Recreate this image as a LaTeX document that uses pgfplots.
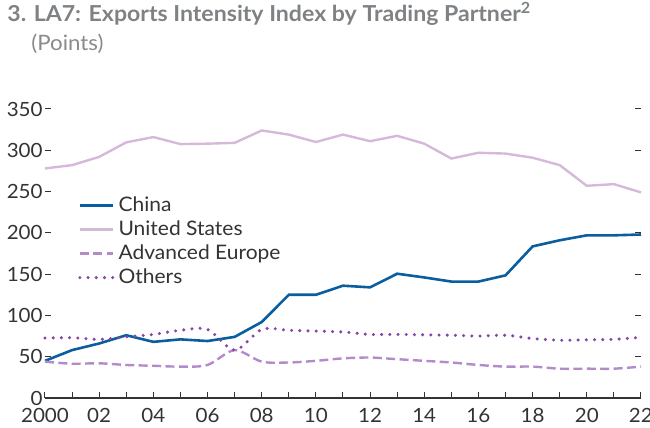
\documentclass[border=0pt]{standalone}
\usepackage{pgfplots}
\pgfplotsset{compat=1.18}
\usepackage{fontspec}
\setmainfont{Lato}[FakeStretch=1.05]
\definecolor{chinac}{HTML}{0B5E9E}
\definecolor{usc}{HTML}{D6B8DB}
\definecolor{aec}{HTML}{B48BCA}
\definecolor{othc}{HTML}{8646A6}
\definecolor{titlec}{HTML}{7F8285}
\definecolor{subc}{HTML}{8A8A8A}
\definecolor{tickc}{HTML}{333333}
\begin{document}
\begin{tikzpicture}
\useasboundingbox (0,0) rectangle (325pt,214pt);
\node[anchor=base west, inner sep=0pt, text=titlec, font=\fontsize{11}{13}\selectfont\bfseries] at (3.5pt,203.3pt) {3. LA7: Exports Intensity Index by Trading Partner\textsuperscript{2}};
\node[anchor=base west, inner sep=0pt, text=subc, font=\fontsize{10.6}{12}\selectfont] at (15.5pt,188.5pt) {(Points)};
\begin{axis}[
  at={(22.5pt,15pt)}, anchor=south west,
  scale only axis, width=298pt, height=144.5pt,
  xmin=2000, xmax=2022, ymin=0, ymax=350,
  axis line style={draw=none},
  xtick={2000,...,2022},
  xticklabels={2000,,02,,04,,06,,08,,10,,12,,14,,16,,18,,20,,22},
  ytick={0,50,...,350},
  xtick pos=bottom, ytick pos=both, yticklabel pos=left,
  tick align=inside, major tick length=3pt,
  tick style={tickc, line width=0.5pt},
  ticklabel style={text=tickc, font=\fontsize{9.8}{11}\selectfont},
  yticklabel style={inner sep=1pt},
  xticklabel style={inner sep=1pt, yshift=-4pt},
  /pgf/number format/assume math mode=true,
  clip=false,
  legend style={at={(0.055,0.713)}, anchor=north west, draw=none, fill=none,
    font=\fontsize{10}{12}\selectfont, text=tickc, row sep=-0.8pt, inner sep=0pt},
  legend cell align=left,
  legend image code/.code={\draw[#1] (0pt,0pt) -- (16.5pt,0pt);},
]
\draw[tickc, line width=0.6pt] (rel axis cs:0,0) -- (rel axis cs:1,0);
\addplot[chinac, line width=1.3pt] coordinates {
(2000,45) (2001,58) (2002,66) (2003,76) (2004,68) (2005,71) (2006,69) (2007,74)
(2008,92) (2009,125) (2010,125) (2011,136) (2012,134) (2013,150.5) (2014,146)
(2015,141) (2016,141) (2017,148.5) (2018,183.6) (2019,191) (2020,197) (2021,197) (2022,198)};
\addlegendentry{China}
\addplot[usc, line width=1.2pt] coordinates {
(2000,278) (2001,282) (2002,292) (2003,309.6) (2004,316) (2005,307.5) (2006,308) (2007,309)
(2008,324) (2009,319) (2010,310) (2011,319) (2012,311) (2013,317.5) (2014,308)
(2015,290) (2016,297) (2017,296) (2018,291) (2019,282) (2020,257) (2021,259) (2022,249)};
\addlegendentry{United States}
\addplot[aec, line width=1.2pt, dash pattern=on 4.5pt off 2.2pt, smooth, tension=0.5] coordinates {
(2000,44) (2001,41.5) (2002,42) (2003,40) (2004,39) (2005,38) (2006,40) (2007,58)
(2008,44) (2009,43) (2010,45) (2011,48) (2012,49) (2013,47) (2014,45)
(2015,43) (2016,40) (2017,38) (2018,38) (2019,35.5) (2020,35.5) (2021,35.5) (2022,38)};
\addlegendentry{Advanced Europe}
\addplot[othc, line width=1.7pt, line cap=round, dash pattern=on 0pt off 4.1pt, smooth, tension=0.5] coordinates {
(2000,72.6) (2001,73) (2002,71) (2003,74) (2004,77) (2005,82) (2006,83) (2007,58)
(2008,83) (2009,82) (2010,81) (2011,80) (2012,77) (2013,77) (2014,76.5)
(2015,76) (2016,75) (2017,76) (2018,72) (2019,70) (2020,70.5) (2021,71) (2022,73.5)};
\addlegendentry{Others}
\end{axis}
\end{tikzpicture}
\end{document}
